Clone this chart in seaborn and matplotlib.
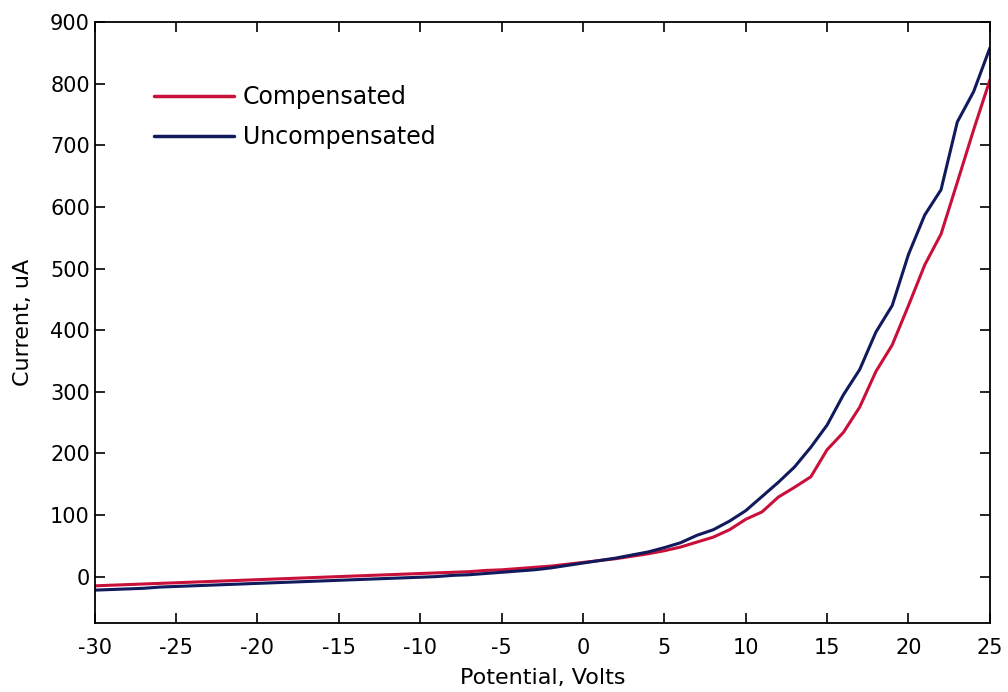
import matplotlib
matplotlib.use("Agg")
import matplotlib.pyplot as plt
import seaborn as sns
import pandas as pd

potential = list(range(-30, 26))
compensated = [-15, -14, -13, -12, -11, -10, -9, -8, -7, -6,
               -5, -4, -3, -2, -1, 0, 1, 2, 3, 4,
               5, 6, 7, 8, 10, 11, 13, 15, 17, 20,
               23, 26, 29, 33, 37, 42, 48, 56, 64, 76,
               93, 105, 129, 145, 162, 206, 234, 275, 333, 376,
               440, 506, 556, 640, 725, 806]
uncompensated = [-22, -21, -20, -19, -17, -16, -15, -14, -13, -12,
                 -11, -10, -9, -8, -7, -6, -5, -4, -3, -2,
                 -1, 0, 2, 3, 5, 7, 9, 11, 14, 18,
                 22, 26, 30, 35, 40, 47, 55, 67, 76, 90,
                 107, 130, 153, 178, 210, 246, 295, 336, 397, 440,
                 523, 587, 628, 738, 787, 858]
series_names = ["Compensated", "Uncompensated"]
x_ticks = [-30, -25, -20, -15, -10, -5, 0, 5, 10, 15, 20, 25]
y_ticks = [0, 100, 200, 300, 400, 500, 600, 700, 800, 900]

df = pd.concat([
    pd.DataFrame({"Potential": potential, "Current": compensated, "Series": series_names[0]}),
    pd.DataFrame({"Potential": potential, "Current": uncompensated, "Series": series_names[1]}),
])

sns.set_style("ticks")
plt.rcParams["font.family"] = ["DejaVu Sans"]
plt.rcParams["axes.unicode_minus"] = False
plt.rcParams["text.color"] = "black"
plt.rcParams["axes.labelcolor"] = "black"
plt.rcParams["xtick.color"] = "black"
plt.rcParams["ytick.color"] = "black"

fig = plt.figure(figsize=(10.08, 6.92), dpi=100)
ax = fig.add_axes([0.094, 0.100, 0.888, 0.868])

sns.lineplot(data=df, x="Potential", y="Current", hue="Series",
             palette={"Compensated": "#c8103a", "Uncompensated": "#101a5c"},
             linewidth=2.2, ax=ax, legend=True)

ax.set_xlim(-30, 25)
ax.set_ylim(-75, 900)
ax.set_xticks(x_ticks)
ax.set_yticks(y_ticks)
ax.set_xlabel("Potential, Volts", fontsize=16, labelpad=7)
ax.set_ylabel("Current, uA", fontsize=16, labelpad=12)
ax.tick_params(direction="in", length=7, width=1.2, labelsize=15,
               top=True, right=True, color="black", labelcolor="black")
ax.tick_params(axis="x", pad=11)
for s in ax.spines.values():
    s.set_visible(True)
    s.set_linewidth(1.3)
    s.set_color("black")

leg = ax.legend(loc="upper left", bbox_to_anchor=(0.042, 0.93), frameon=False,
                fontsize=17, handlelength=3.4, handletextpad=0.38, labelspacing=0.68)
for line in leg.get_lines():
    line.set_linewidth(2.5)

fig.savefig("out.png", dpi=100)
